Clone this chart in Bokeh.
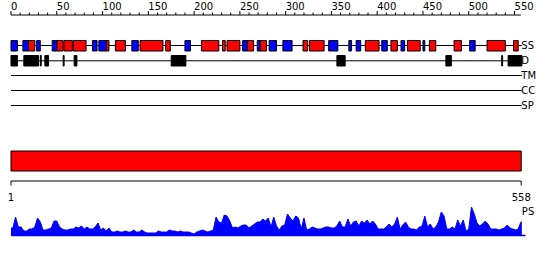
from bokeh.plotting import figure
from bokeh.models import Range1d
from bokeh.core.properties import value
from bokeh.embed import file_html
from bokeh.resources import INLINE

# ---------------- data ----------------
seq_length = 558
ruler_ticks = list(range(0, 551, 10))
ruler_label_values = list(range(0, 551, 50))
ruler_labels = [str(v) for v in ruler_label_values]

# secondary structure (residue start, end)
ss_helix = [(20, 26), (51, 57), (59, 67), (69, 82), (105, 107), (115, 125),
            (142, 166), (170, 174), (209, 227), (232, 234), (237, 250),
            (259, 265), (273, 279), (320, 324), (327, 342), (388, 402),
            (416, 422), (434, 447), (458, 464), (485, 492), (521, 540),
            (550, 554)]
ss_strand = [(1, 7), (14, 19), (29, 32), (46, 50), (90, 94), (97, 104),
             (133, 139), (191, 196), (254, 258), (270, 272), (283, 290),
             (298, 307), (348, 357), (370, 372), (378, 382), (406, 411),
             (427, 430), (451, 452), (502, 507)]
disorder = [(1, 7), (15, 30), (33, 33), (38, 41), (58, 58), (70, 72),
            (176, 191), (357, 365), (476, 481), (537, 537), (544, 558)]
track_names = ["SS", "D", "TM", "CC", "SP"]
domain_start, domain_end = 1, 558
domain_labels = ["1", "558"]
ps_label = "PS"

# PS profile, one value per 3 residues (bin centers)
ps_centers = list(range(2, 558, 3))
ps_values = [8, 19, 9, 9, 5, 5, 7, 7, 9, 18,
             14, 6, 6, 7, 8, 15, 15, 9, 7, 6,
             6, 7, 7, 9, 8, 10, 7, 9, 7, 7,
             9, 13, 6, 8, 5, 8, 4, 4, 5, 4,
             4, 5, 4, 4, 6, 4, 4, 6, 4, 3,
             3, 3, 3, 5, 4, 4, 4, 6, 5, 5,
             4, 5, 4, 4, 4, 3, 2, 4, 5, 6,
             5, 4, 5, 6, 19, 14, 13, 21, 20, 15,
             8, 9, 8, 10, 11, 11, 8, 10, 12, 14,
             14, 17, 15, 18, 9, 19, 10, 6, 10, 11,
             22, 18, 15, 20, 18, 7, 18, 6, 7, 9,
             8, 7, 7, 8, 9, 9, 8, 8, 10, 15,
             9, 9, 17, 10, 14, 15, 10, 15, 13, 16,
             12, 15, 12, 7, 7, 7, 9, 12, 9, 12,
             19, 7, 11, 14, 9, 7, 7, 6, 9, 10,
             20, 9, 12, 7, 9, 14, 24, 20, 7, 7,
             9, 7, 16, 10, 16, 5, 7, 29, 22, 13,
             10, 12, 15, 12, 7, 7, 7, 6, 7, 8,
             11, 8, 7, 6, 7, 14]

# ---------------- layout / style ----------------
W, H = 550, 260
px_per_res = 0.9155
x0_px = 10.5
FONT = value("DejaVu Sans")
FS = value("10px")
TXT_SHIFT = -4.0

p = figure(width=W, height=H, output_backend="svg", toolbar_location=None,
           x_axis_type=None, y_axis_type=None,
           x_range=Range1d(-x0_px / px_per_res, (W - x0_px) / px_per_res),
           y_range=Range1d(H, 0))
p.min_border = 0
p.min_border_left = p.min_border_right = p.min_border_top = p.min_border_bottom = 0
p.outline_line_color = None
p.background_fill_color = "white"
p.border_fill_color = "white"

k2 = 510.2 / 557.0
p.extra_x_ranges = {"seq": Range1d(1 - 10.5 / k2, 1 + (W - 10.5) / k2)}
ps_base = 235.5
p.extra_y_ranges = {"ps": Range1d(-(H - ps_base), ps_base)}

# top ruler
ruler_y = 14.5
p.segment(x0=[0], x1=[557], y0=[ruler_y], y1=[ruler_y], line_color="black", line_width=1)
p.segment(x0=ruler_ticks, x1=ruler_ticks, y0=[ruler_y] * len(ruler_ticks),
          y1=[10.5 if t % 50 == 0 else 12.0 for t in ruler_ticks],
          line_color="black", line_width=1)
p.text(x=ruler_label_values, y=[9.3 + TXT_SHIFT] * len(ruler_label_values), text=ruler_labels,
       text_font=FONT, text_font_size=FS, text_align="left",
       text_baseline="alphabetic", text_color="black")

# tracks
track_y = [45, 60.3, 75, 90, 105]
p.segment(x0=[0] * 5, x1=[seq_length] * 5, y0=track_y, y1=track_y,
          line_color="black", line_width=1)
p.text(x=[seq_length] * 5, y=[ty + 3.8 + TXT_SHIFT for ty in track_y], text=track_names,
       x_offset=-0.5, text_font=FONT, text_font_size=FS, text_align="left",
       text_baseline="alphabetic", text_color="black")

def boxes(items, top, bottom, color):
    p.quad(left=[s - 1 for s, e in items], right=[e for s, e in items],
           top=[top] * len(items), bottom=[bottom] * len(items),
           fill_color=color, line_color="black", line_width=1)

boxes(ss_helix, 40, 50.5, "#FF0000")
boxes(ss_strand, 40, 50.5, "#0000FF")
boxes(disorder, 55, 65.5, "#000000")

# domain bar
p.quad(left=[domain_start], right=[domain_end], top=[150.5], bottom=[170.5],
       fill_color="#FF0000", line_color="black", line_width=1, x_range_name="seq")
ax_y = 180.5
p.segment(x0=[domain_start], x1=[domain_end], y0=[ax_y], y1=[ax_y],
          line_color="black", line_width=1, x_range_name="seq")
p.segment(x0=[domain_start, domain_end], x1=[domain_start, domain_end],
          y0=[ax_y, ax_y], y1=[185, 185], line_color="black", line_width=1,
          x_range_name="seq")
p.text(x=[domain_start, domain_end], y=[200.6 + TXT_SHIFT] * 2, text=domain_labels,
       text_font=FONT, text_font_size=FS, text_align="center",
       text_baseline="alphabetic", text_color="black", x_range_name="seq")

# PS profile
xs = [0] + ps_centers + [seq_length]
ys = [ps_values[0]] + ps_values + [ps_values[-1]]
p.varea(x=xs, y1=[0] * len(xs), y2=ys, fill_color="#0000FF", y_range_name="ps")
p.line(x=xs, y=ys, line_color="#0000FF", line_width=1, y_range_name="ps")
p.segment(x0=[0], x1=[562], y0=[0.5], y1=[0.5], line_color="#0000FF",
          line_width=1.5, y_range_name="ps")
p.text(x=[seq_length], y=[215 + TXT_SHIFT], text=[ps_label], x_offset=0,
       text_font=FONT, text_font_size=FS, text_align="left",
       text_baseline="alphabetic", text_color="black")

open("out.html", "w").write(file_html(p, INLINE))
